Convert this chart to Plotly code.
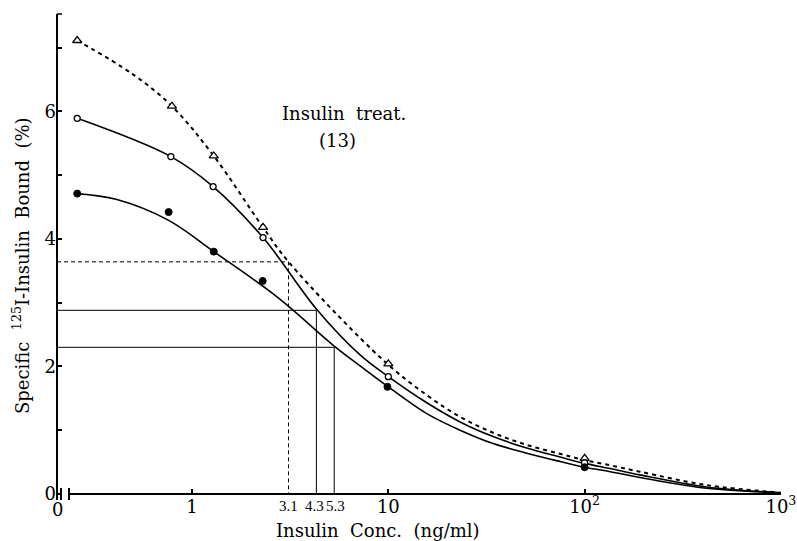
import numpy as np
import plotly.graph_objects as go

# ---------------- data ----------------
# measured points
tri_conc = [0.26, 0.79, 1.29, 2.30, 10, 100]
tri_bound = [7.11, 6.08, 5.30, 4.18, 2.04, 0.56]
open_conc = [0.26, 0.78, 1.28, 2.30, 10, 100]
open_bound = [5.89, 5.29, 4.82, 4.02, 1.84, 0.49]
fill_conc = [0.26, 0.76, 1.29, 2.29, 9.9, 100]
fill_bound = [4.71, 4.42, 3.80, 3.34, 1.68, 0.42]

# drawn (fitted) curves
tri_curve_conc = [0.26, 0.5, 0.79, 1.29, 2.30, 3.1, 9.4, 15.7, 23.2, 34.2, 50.7, 74.9, 100, 135, 191, 419, 1000]
tri_curve_bound = [7.11, 6.58, 6.08, 5.30, 4.18, 3.64, 2.10, 1.55, 1.21, 0.96, 0.77, 0.63, 0.53, 0.45, 0.35, 0.14, 0.02]
open_curve_conc = [0.26, 0.78, 1.28, 2.30, 4.3, 7.18, 10, 15.7, 23.2, 34.2, 50.7, 74.9, 100, 135, 191, 419, 1000]
open_curve_bound = [5.89, 5.29, 4.82, 4.02, 2.90, 2.18, 1.84, 1.43, 1.13, 0.90, 0.72, 0.58, 0.48, 0.40, 0.30, 0.11, 0.02]
fill_curve_conc = [0.26, 0.41, 0.76, 1.29, 2.71, 5.3, 7.18, 10, 15.7, 23.2, 34.2, 50.7, 74.9, 100, 135, 191, 419, 1000]
fill_curve_bound = [4.71, 4.62, 4.29, 3.80, 3.09, 2.32, 2.01, 1.68, 1.26, 1.00, 0.79, 0.64, 0.51, 0.42, 0.35, 0.26, 0.09, 0.02]

# read-off reference lines (50 % binding)
ref_conc = [3.1, 4.3, 5.3]
ref_bound = [3.64, 2.88, 2.30]
ref_dash = ["4px,3px", "solid", "solid"]
ref_labels = ["3.1", "4.3", "5.3"]
ref_label_shift = [0, -2, 1]

# axis ticks
x_tickvals = [1, 10, 100, 1000]
x_ticktext = ["1", "10", "10<sup>2</sup>", "10<sup>3</sup>"]
y_tickvals = [0, 1, 2, 3, 4, 5, 6, 7]
y_ticktext = ["0", "", "2", "", "4", "", "6", ""]

X_LOG_MIN = -0.688
X_LOG_MAX = 3.0005
Y_MAX = 7.51

SERIF = "DejaVu Serif"
BLACK = "black"

fig = go.Figure()

# curves
fig.add_trace(go.Scatter(x=tri_curve_conc, y=tri_curve_bound, mode="lines",
                         line=dict(color=BLACK, width=2, dash="4px,4px", shape="spline", smoothing=1.0),
                         hoverinfo="skip"))
fig.add_trace(go.Scatter(x=open_curve_conc, y=open_curve_bound, mode="lines",
                         line=dict(color=BLACK, width=1.6, shape="spline", smoothing=1.0),
                         hoverinfo="skip"))
fig.add_trace(go.Scatter(x=fill_curve_conc, y=fill_curve_bound, mode="lines",
                         line=dict(color=BLACK, width=1.6, shape="spline", smoothing=1.0),
                         hoverinfo="skip"))

# reference lines
x_left = 10 ** X_LOG_MIN
for c, b, d in zip(ref_conc, ref_bound, ref_dash):
    fig.add_trace(go.Scatter(x=[x_left, c, c], y=[b, b, 0], mode="lines",
                             line=dict(color=BLACK, width=1, dash=d), hoverinfo="skip"))

# markers
fig.add_trace(go.Scatter(x=tri_conc, y=tri_bound, mode="markers",
                         marker=dict(symbol="triangle-up", size=8, color="white",
                                     line=dict(color=BLACK, width=1.3))))
fig.add_trace(go.Scatter(x=open_conc, y=open_bound, mode="markers",
                         marker=dict(symbol="circle", size=6, color="white",
                                     line=dict(color=BLACK, width=1.3))))
fig.add_trace(go.Scatter(x=fill_conc, y=fill_bound, mode="markers",
                         marker=dict(symbol="circle", size=7, color=BLACK,
                                     line=dict(color=BLACK, width=1))))

# axis decorations (axis line with break)
W = 724.0
H = 479.0
def px(p):
    return p / W
def py(p):
    return p / H

shapes = [
    dict(type="line", xref="paper", yref="paper", x0=0, x1=0, y0=-py(6), y1=1.0 + py(1),
         line=dict(color=BLACK, width=2)),
    dict(type="line", xref="paper", yref="paper", x0=0, x1=px(5), y0=1.0 + py(1), y1=1.0 + py(1),
         line=dict(color=BLACK, width=1.5)),
    dict(type="line", xref="paper", yref="paper", x0=-px(1), x1=px(4), y0=0, y1=0,
         line=dict(color=BLACK, width=2)),
    dict(type="line", xref="paper", yref="paper", x0=px(4), x1=px(4), y0=-py(6), y1=py(6),
         line=dict(color=BLACK, width=2)),
    dict(type="line", xref="paper", yref="paper", x0=px(12), x1=px(12), y0=-py(6), y1=py(6),
         line=dict(color=BLACK, width=2)),
    dict(type="line", xref="paper", yref="paper", x0=px(12), x1=1.0, y0=0, y1=0,
         line=dict(color=BLACK, width=2)),
]

annotations = [
    dict(text="0", xref="paper", yref="paper", x=0, y=0, yanchor="top", xanchor="center",
         yshift=-3, showarrow=False, font=dict(family=SERIF, size=18, color=BLACK)),
    dict(text="Insulin&nbsp;&nbsp;Conc.&nbsp;&nbsp;(ng/ml)", xref="paper", yref="paper",
         x=(378 - 57) / W, y=-(530 - 494) / H, xanchor="center", yanchor="middle",
         showarrow=False, font=dict(family=SERIF, size=18, color=BLACK)),
    dict(text="Specific&nbsp;&nbsp;<sup>125</sup>I-Insulin&nbsp;&nbsp;Bound&nbsp;&nbsp;(%)",
         xref="paper", yref="paper", x=(21 - 57) / W, y=(494 - 266) / H, textangle=-90,
         xanchor="center", yanchor="middle", showarrow=False,
         font=dict(family=SERIF, size=18, color=BLACK)),
    dict(text="Insulin&nbsp;&nbsp;treat.", xref="paper", yref="paper",
         x=(344 - 57) / W, y=(494 - 113) / H, xanchor="center", yanchor="middle",
         showarrow=False, font=dict(family=SERIF, size=18, color=BLACK)),
    dict(text="(13)", xref="paper", yref="paper",
         x=(337 - 57) / W, y=(494 - 140) / H, xanchor="center", yanchor="middle",
         showarrow=False, font=dict(family=SERIF, size=18, color=BLACK)),
]
for c, lab, sh in zip(ref_conc, ref_labels, ref_label_shift):
    annotations.append(dict(text=lab, xref="x", yref="paper", x=np.log10(c), y=0,
                            xanchor="center", yanchor="top", yshift=-2, xshift=sh,
                            showarrow=False,
                            font=dict(family="Liberation Serif", size=15, color=BLACK)))

fig.update_layout(
    width=797, height=541,
    margin=dict(l=57, r=16, t=15, b=47, autoexpand=False),
    paper_bgcolor="white", plot_bgcolor="white",
    showlegend=False,
    shapes=shapes,
    annotations=annotations,
    xaxis=dict(type="log", range=[X_LOG_MIN, X_LOG_MAX], showgrid=False, zeroline=False,
               showline=False, tickvals=x_tickvals, ticktext=x_ticktext, automargin=False,
               ticks="inside", ticklen=5, tickwidth=1.5, tickcolor=BLACK,
               tickfont=dict(family=SERIF, size=18, color=BLACK)),
    yaxis=dict(range=[0, Y_MAX], showgrid=False, zeroline=False, showline=False,
               tickvals=y_tickvals, ticktext=y_ticktext, automargin=False,
               ticks="inside", ticklen=5, tickwidth=1.5, tickcolor=BLACK,
               tickfont=dict(family=SERIF, size=18, color=BLACK)),
)

fig.write_html("out.html")
